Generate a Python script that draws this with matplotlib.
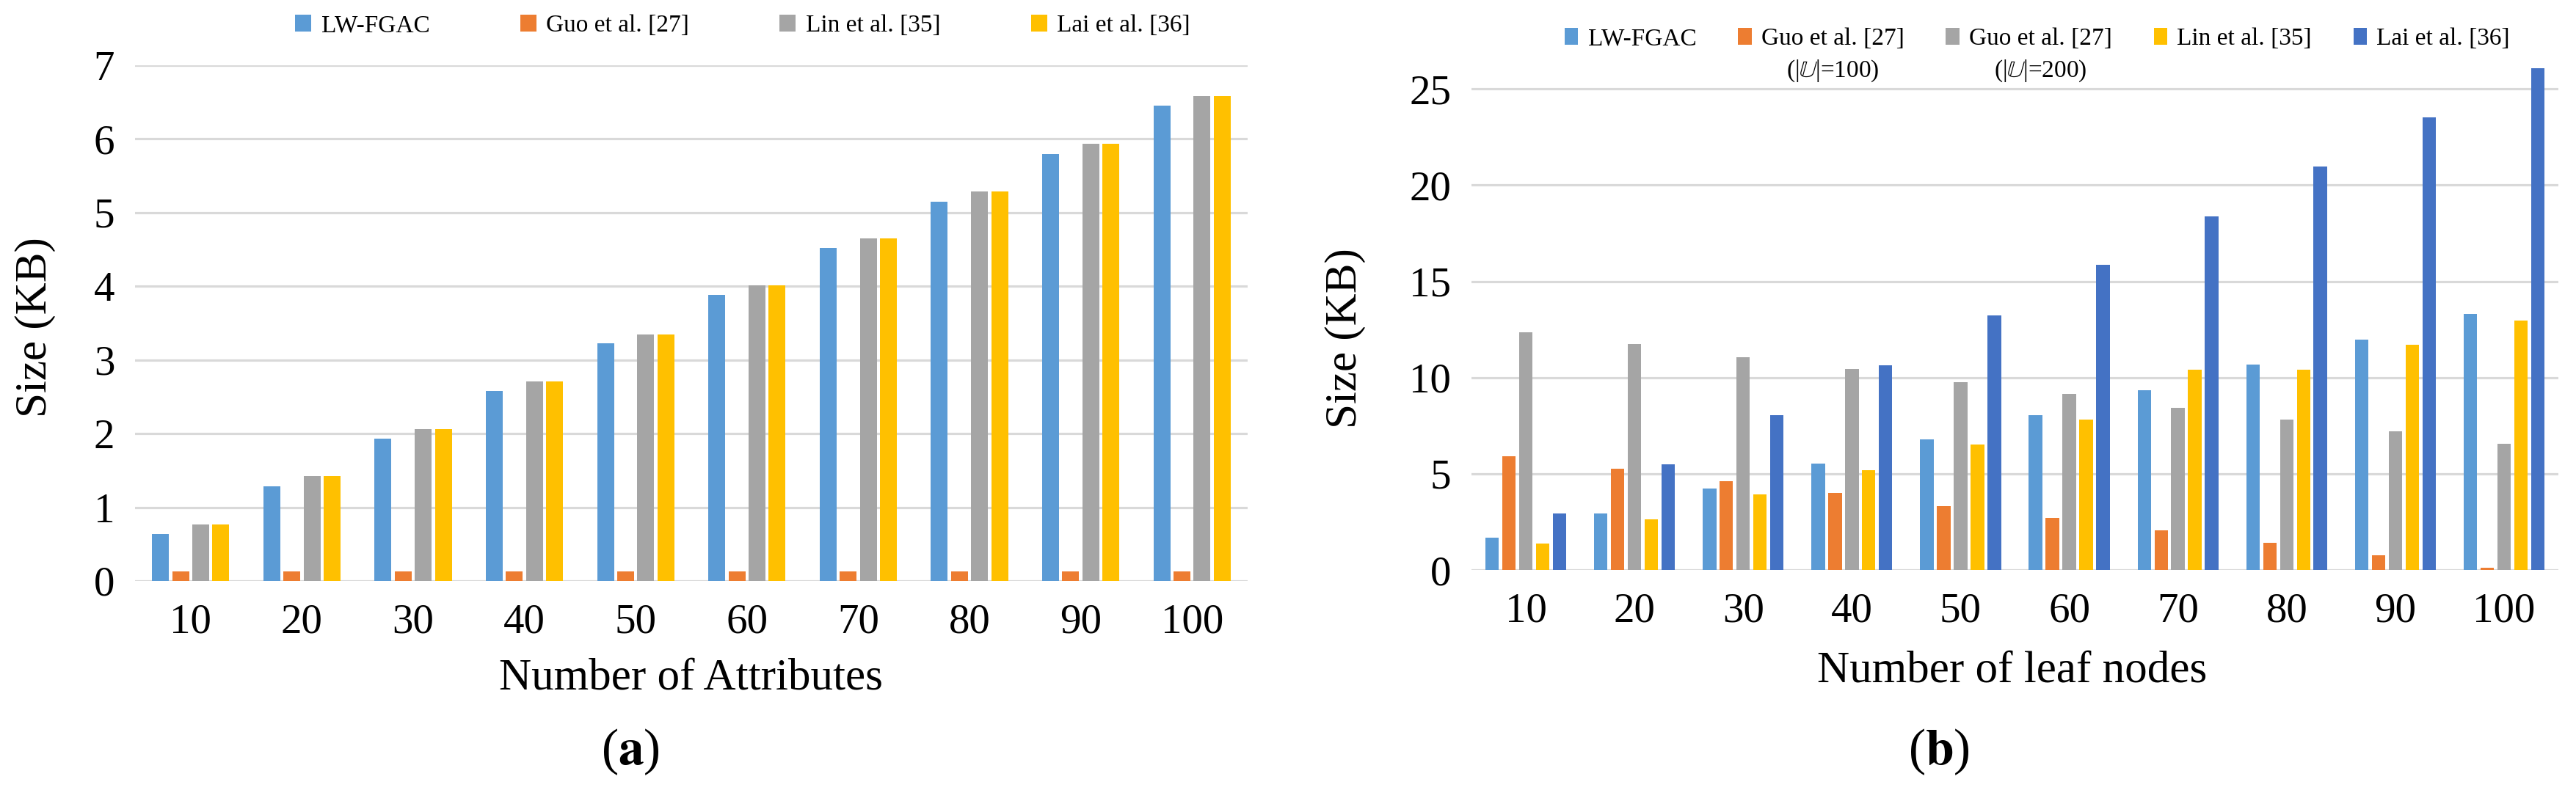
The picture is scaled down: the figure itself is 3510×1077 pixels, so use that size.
import matplotlib
matplotlib.use("Agg")
import matplotlib.pyplot as plt
import numpy as np

plt.rcParams['font.family'] = ['Liberation Serif', 'DejaVu Serif']
plt.rcParams['mathtext.fontset'] = 'stix'

categories = ['10', '20', '30', '40', '50', '60', '70', '80', '90', '100']

# (a) size vs number of attributes
a_labels = ['LW-FGAC', 'Guo et al. [27]', 'Lin et al. [35]', 'Lai et al. [36]']
a_lw = [0.64, 1.28, 1.93, 2.58, 3.23, 3.88, 4.52, 5.15, 5.80, 6.45]
a_guo = [0.13, 0.13, 0.13, 0.13, 0.13, 0.13, 0.13, 0.13, 0.13, 0.13]
a_lin = [0.77, 1.42, 2.06, 2.71, 3.35, 4.01, 4.65, 5.29, 5.93, 6.58]
a_lai = [0.77, 1.42, 2.06, 2.71, 3.35, 4.01, 4.65, 5.29, 5.93, 6.58]

# (b) size vs number of leaf nodes
b_labels = ['LW-FGAC', 'Guo et al. [27]', 'Guo et al. [27]', 'Lin et al. [35]', 'Lai et al. [36]']
b_sublabels = [None, r'(|$\mathbb{U}$|=100)', r'(|$\mathbb{U}$|=200)', None, None]
b_lw = [1.67, 2.95, 4.24, 5.52, 6.80, 8.06, 9.34, 10.68, 11.97, 13.29]
b_guo100 = [5.91, 5.26, 4.61, 4.02, 3.33, 2.72, 2.05, 1.40, 0.75, 0.12]
b_guo200 = [12.34, 11.74, 11.06, 10.44, 9.77, 9.16, 8.43, 7.82, 7.19, 6.54]
b_lin = [1.36, 2.64, 3.94, 5.18, 6.50, 7.80, 10.42, 10.42, 11.70, 12.95]
b_lai = [2.95, 5.48, 8.06, 10.64, 13.21, 15.84, 18.37, 20.95, 23.53, 26.06]

blue = '#5B9BD5'
orange = '#ED7D31'
gray = '#A5A5A5'
yellow = '#FFC000'
dblue = '#4472C4'

W, H = 3510, 1077
fig = plt.figure(figsize=(W / 100, H / 100), dpi=100)


def style_axes(ax, ymax, yticks):
    ax.set_xlim(-0.5, 9.5)
    ax.set_ylim(0, ymax)
    ax.set_yticks(yticks)
    ax.set_xticks(np.arange(len(categories)))
    ax.set_xticklabels(categories)
    for s in ax.spines.values():
        s.set_visible(False)
    ax.yaxis.grid(True, color='#d9d9d9', lw=2.3)
    ax.set_axisbelow(True)
    ax.tick_params(axis='both', length=0, labelsize=41)
    ax.tick_params(axis='x', pad=22)
    ax.tick_params(axis='y', pad=20)


# ---- panel (a)
ax1 = fig.add_axes([184 / W, 1 - 792 / H, 1516 / W, 703 / H])
x = np.arange(len(categories))
w, p = 0.152, 0.181
series_a = [a_lw, a_guo, a_lin, a_lai]
colors_a = [blue, orange, gray, yellow]
for i, (vals, c, lab) in enumerate(zip(series_a, colors_a, a_labels)):
    ax1.bar(x + (i - 1.5) * p, vals, w, color=c, label=lab)
style_axes(ax1, 7, range(0, 8))
ax1.set_ylabel('Size (KB)', fontsize=44, va='center')
ax1.yaxis.set_label_coords((48 - 184) / 1516, (792 - 446) / 703)
ax1.set_xlabel('Number of Attributes', fontsize=44, va='center')
ax1.xaxis.set_label_coords((942 - 184) / 1516, -(925 - 792) / 703)
fig.legend(*ax1.get_legend_handles_labels(), loc='center',
           bbox_to_anchor=(1012 / W, 1 - 35 / H), ncol=4, frameon=False,
           fontsize=24, handlelength=0.66, handleheight=0.66,
           handletextpad=0.4, columnspacing=3.7)
fig.text(859 / W, 1 - 1025 / H, r'($\mathbf{a}$)', fontsize=50,
         ha='center', va='center')

# ---- panel (b)
ax2 = fig.add_axes([2005 / W, 1 - 777 / H, 1481 / W, 686 / H])
w, p = 0.124, 0.155
series_b = [b_lw, b_guo100, b_guo200, b_lin, b_lai]
colors_b = [blue, orange, gray, yellow, dblue]
for i, (vals, c, lab) in enumerate(zip(series_b, colors_b, b_labels)):
    ax2.bar(x + (i - 2) * p, vals, w, color=c, label=lab)
style_axes(ax2, 26.15, range(0, 30, 5))
ax2.set_ylabel('Size (KB)', fontsize=44, va='center')
ax2.yaxis.set_label_coords((1833 - 2005) / 1481, (777 - 461) / 686)
ax2.set_xlabel('Number of leaf nodes', fontsize=44, va='center')
ax2.xaxis.set_label_coords((2742 - 2005) / 1481, -(915 - 777) / 686)
leg2 = fig.legend(*ax2.get_legend_handles_labels(), loc='center',
                  bbox_to_anchor=(2776 / W, 1 - 53 / H), ncol=5, frameon=False,
                  fontsize=24, handlelength=0.55, handleheight=0.66,
                  handletextpad=0.4, columnspacing=1.7)
fig.text(2642 / W, 1 - 1025 / H, r'($\mathbf{b}$)', fontsize=50,
         ha='center', va='center')

# second line of the two Guo legend entries
fig.canvas.draw()
renderer = fig.canvas.get_renderer()
for t, sub in zip(leg2.get_texts(), b_sublabels):
    if sub is None:
        continue
    bb = t.get_window_extent(renderer)
    fig.text((bb.x0 + bb.x1) / 2 / W, 1 - 97 / H, sub, fontsize=24,
             ha='center', va='center')

fig.savefig('out.png', dpi=100)
